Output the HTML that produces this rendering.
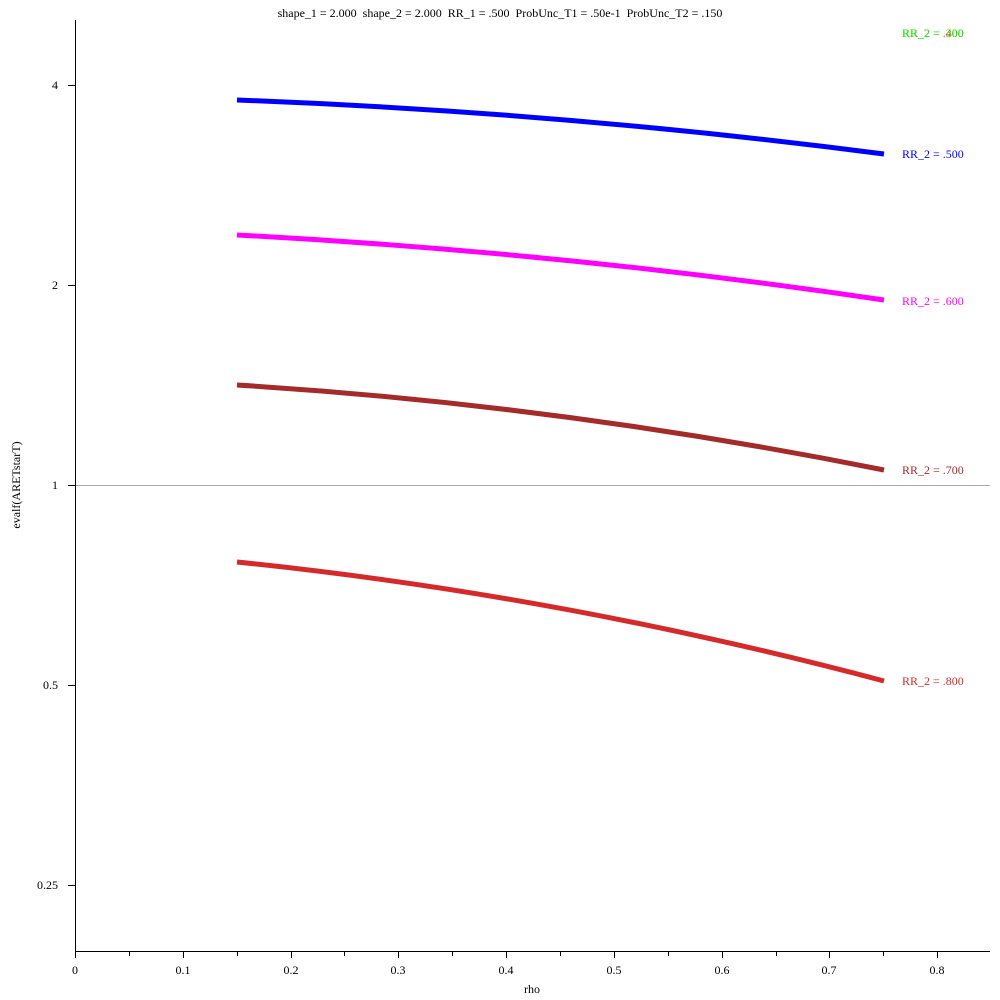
<!DOCTYPE html>
<html><head><meta charset="utf-8"><style>body{margin:0;background:#fff}svg{display:block}text{font-family:"Liberation Serif",serif;font-size:12px}</style></head><body>
<svg width="1000" height="1000" viewBox="0 0 1000 1000">
<text x="500" y="17" text-anchor="middle" style="white-space:pre">shape_1 = 2.000  shape_2 = 2.000  RR_1 = .500  ProbUnc_T1 = .50e-1  ProbUnc_T2 = .150</text>
<line x1="75.5" y1="20" x2="75.5" y2="951" stroke="#000"/>
<line x1="75" y1="951.5" x2="990" y2="951.5" stroke="#000"/>
<line x1="76" y1="485.5" x2="990" y2="485.5" stroke="#aaa"/>
<g stroke="#000">
<line x1="75.5" y1="951" x2="75.5" y2="958"/><line x1="129.5" y1="951" x2="129.5" y2="956"/>
<line x1="183.5" y1="951" x2="183.5" y2="958"/><line x1="237.5" y1="951" x2="237.5" y2="956"/>
<line x1="291.5" y1="951" x2="291.5" y2="958"/><line x1="344.5" y1="951" x2="344.5" y2="956"/>
<line x1="398.5" y1="951" x2="398.5" y2="958"/><line x1="452.5" y1="951" x2="452.5" y2="956"/>
<line x1="506.5" y1="951" x2="506.5" y2="958"/><line x1="560.5" y1="951" x2="560.5" y2="956"/>
<line x1="614.5" y1="951" x2="614.5" y2="958"/><line x1="668.5" y1="951" x2="668.5" y2="956"/>
<line x1="722.5" y1="951" x2="722.5" y2="958"/><line x1="776.5" y1="951" x2="776.5" y2="956"/>
<line x1="829.5" y1="951" x2="829.5" y2="958"/><line x1="883.5" y1="951" x2="883.5" y2="956"/>
<line x1="937.5" y1="951" x2="937.5" y2="958"/>
<line x1="68" y1="85.5" x2="75" y2="85.5"/><line x1="68" y1="285.5" x2="75" y2="285.5"/>
<line x1="68" y1="485.5" x2="75" y2="485.5"/><line x1="68" y1="685.5" x2="75" y2="685.5"/>
<line x1="68" y1="885.5" x2="75" y2="885.5"/>
</g>
<g text-anchor="middle">
<text x="75" y="974">0</text><text x="183" y="974">0.1</text><text x="291" y="974">0.2</text><text x="398" y="974">0.3</text><text x="506" y="974">0.4</text><text x="614" y="974">0.5</text><text x="722" y="974">0.6</text><text x="829" y="974">0.7</text><text x="937" y="974">0.8</text>
<text x="532" y="993">rho</text>
</g>
<g text-anchor="end">
<text x="58" y="89">4</text><text x="58" y="289">2</text><text x="58" y="489">1</text><text x="58" y="689">0.5</text><text x="58" y="889">0.25</text>
</g>
<text transform="translate(20,485) rotate(-90)" text-anchor="middle">evalf(ARETstarT)</text>
<g fill="none" stroke-width="5">
<path d="M237 100 Q560 112 884 154" stroke="#0000ff"/>
<path d="M237 235 Q560 252 884 300" stroke="#ff00ff"/>
<path d="M237 385 Q560 405 884 470" stroke="#a52a2a"/>
<path d="M237 562 Q560 595 884 681" stroke="#d62a2a"/>
</g>
<text x="902" y="37" fill="#ff0000">RR_2 = .400</text>
<text x="902" y="37" fill="#00ff00">RR_2 = .300</text>
<text x="902" y="158" fill="#0000ff">RR_2 = .500</text>
<text x="902" y="305" fill="#ff00ff">RR_2 = .600</text>
<text x="902" y="474" fill="#a52a2a">RR_2 = .700</text>
<text x="902" y="685" fill="#d62a2a">RR_2 = .800</text>
</svg>
</body></html>
